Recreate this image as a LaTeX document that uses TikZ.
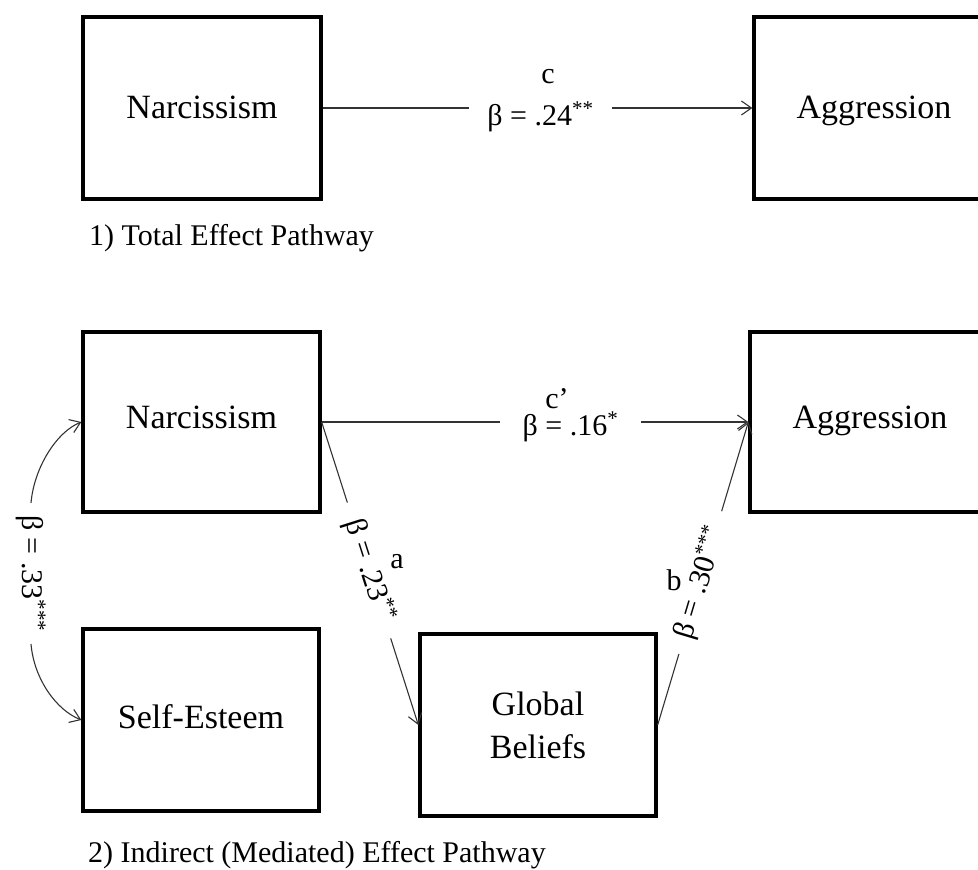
\documentclass[tikz,border=0pt]{standalone}
\usepackage{fontspec}
\setmainfont{Liberation Serif}
\usetikzlibrary{arrows.meta}
\begin{document}
\begin{tikzpicture}[x=1pt,y=-1pt,
  box/.style={draw, line width=3.3pt, inner sep=0pt, minimum height=182pt,
    font=\fontsize{34}{43}\selectfont, align=center},
  onebox/.style={box, text height=#1, text depth=0pt},
  lab/.style={font=\fontsize{30}{36}\selectfont, inner ysep=0pt},
  arr/.style={-{Straight Barb[length=10pt,width=14pt]}, line width=1.1pt, draw=black!80},
  ln/.style={line width=1.1pt, draw=black!80},
  captxt/.style={font=\fontsize{30}{36}\selectfont, anchor=base west, inner sep=0pt}]
\clip (0,0) rectangle (978,870);
\fill[white] (0,0) rectangle (978,870);

% boxes
\node[onebox=20.5pt, minimum width=238pt] (n1) at (202,108) {Narcissism};
\node[onebox=20.5pt, minimum width=240pt] (a1) at (874,108) {Aggression};
\node[onebox=12.5pt, minimum width=237pt, minimum height=180pt] (n2) at (201.5,422) {Narcissism};
\node[onebox=12.5pt, minimum width=240pt, minimum height=180pt] (a2) at (870,422) {Aggression};
\node[onebox=17.5pt, minimum width=236pt] (se) at (201,720) {Self-Esteem};
\node[box, minimum width=236pt] (gb) at (538,725) {Global\\Beliefs};

% total effect
\node[lab, anchor=base, minimum width=143pt, inner xsep=0pt] (l1) at (540.5,125) {β = .24\textsuperscript{**}\hspace{21pt}};
\node[lab, anchor=base] (c1) at (548,83) {c};
\draw[ln] (n1.east) -- (n1.east -| l1.west);
\draw[arr] (l1.east |- a1.west) -- (a1.west);

% direct effect
\node[lab, anchor=base, minimum width=141pt, inner xsep=0pt] (l2) at (570.5,435) {β = .16\textsuperscript{*}\hspace{35pt}};
\node[lab, anchor=base] (c2) at (557,408) {c’};
\draw[ln] (n2.east) -- (n2.east -| l2.west);
\draw[arr] (l2.east |- a2.west) -- (a2.west);

% path a
\path (n2.east) -- (gb.west) node[lab, pos=0.49, sloped, inner xsep=18pt] (l3) {β = .23\textsuperscript{**}};
\draw[ln] (n2.east) -- (l3.west);
\draw[arr] (l3.east) -- (gb.west);
\node[lab] (ta) at (397,562) {a};

% path b
\path (gb.east) -- (a2.west) node[lab, pos=0.47, sloped, inner xsep=16pt] (l4) {β = .30\textsuperscript{***}};
\draw[ln] (gb.east) -- (l4.west);
\draw[arr] (l4.east) -- (a2.west);
\node[lab] (tb) at (674,580) {b};

% correlation narcissism - self-esteem
\node[lab, rotate=-90, inner xsep=12pt] (l5) at (31,573.5) {β = .33\textsuperscript{***}\hspace{17pt}};
\draw[arr] (l5.west) .. controls +(3,-35) and +(-25,10) .. (n2.west);
\draw[arr] (l5.east) .. controls +(3,35) and +(-25,-10) .. (se.west);

% captions
\node[captxt] (t1) at (89,245) {1) Total Effect Pathway};
\node[captxt] (t2) at (88,862) {2) Indirect (Mediated) Effect Pathway};
\end{tikzpicture}
\end{document}
